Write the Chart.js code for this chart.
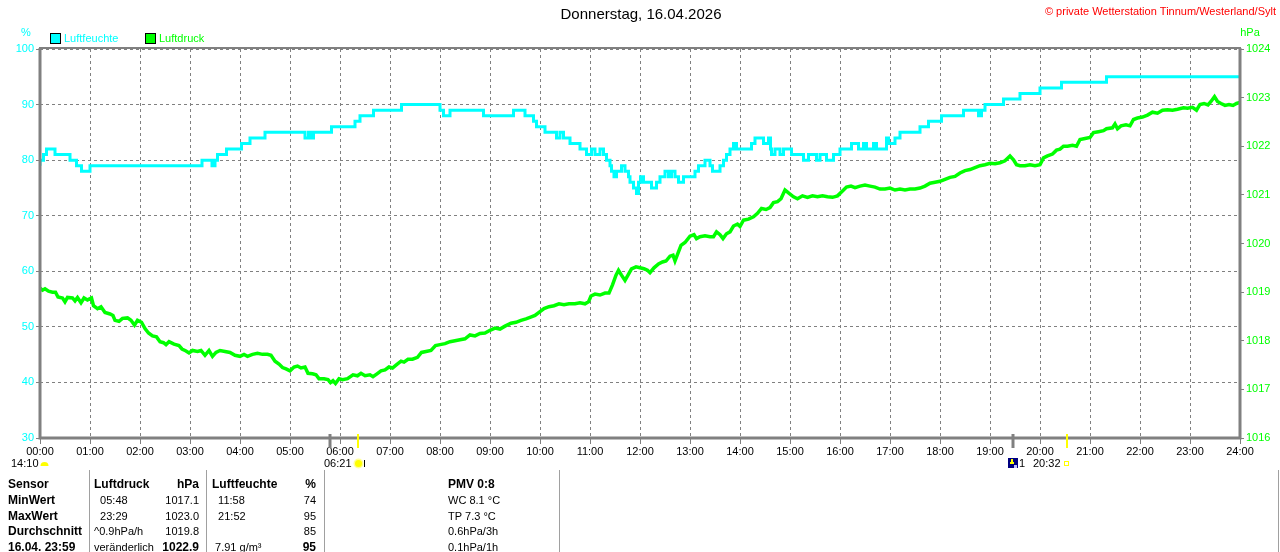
<!DOCTYPE html>
<html>
<head>
<meta charset="utf-8">
<title>Wetterstation Tinnum - Luftdruck / Luftfeuchte</title>
<script src="https://cdn.jsdelivr.net/npm/chart.js@4.4.1/dist/chart.umd.min.js"></script>
<style>
  html, body { margin: 0; padding: 0; background: #fff; }
  #wrap { width: 1280px; height: 552px; position: relative; }
</style>
</head>
<body>
<div id="wrap"><canvas id="wetterChart" width="1280" height="552"></canvas></div>
<script>
// Zeitachse in Stunden (0..24)
const hourMin = 0, hourMax = 24;

// Luftfeuchte in %, Stufenwerte ab Zeitpunkt
const humTimes = [
  0, 0.07, 0.13, 0.3, 0.6, 0.73, 0.83, 1.0,
  3.24, 3.44, 3.5, 3.55, 3.73, 4.03, 4.2, 4.5,
  5.3, 5.37, 5.43, 5.47, 5.83, 6.3, 6.4, 6.67,
  7.23, 8.0, 8.07, 8.2, 8.87, 9.47, 9.7, 9.87,
  9.93, 10.1, 10.33, 10.4, 10.47, 10.6, 10.8, 10.93,
  11.03, 11.1, 11.2, 11.27, 11.33, 11.4, 11.43, 11.48,
  11.53, 11.63, 11.7, 11.77, 11.8, 11.87, 11.93, 11.97,
  12.01, 12.07, 12.23, 12.33, 12.4, 12.5, 12.57, 12.63,
  12.7, 12.77, 12.87, 13.1, 13.17, 13.3, 13.4, 13.45,
  13.6, 13.67, 13.73, 13.8, 13.87, 13.93, 14.23, 14.3,
  14.47, 14.57, 14.61, 14.63, 14.7, 14.8, 14.87, 15.03,
  15.27, 15.37, 15.53, 15.6, 15.73, 15.87, 16.0, 16.23,
  16.37, 16.47, 16.53, 16.67, 16.73, 16.93, 16.97, 17.1,
  17.2, 17.6, 17.77, 18.03, 18.47, 18.77, 18.83, 18.9,
  19.27, 19.6, 20.0, 20.43, 21.33, 21.87, 24.0
];
const humValues = [
  79, 80, 81, 82, 81, 80, 79, 78,
  79, 80, 79, 80, 81, 82, 83, 84,
  85, 84, 85, 84, 85, 86, 87, 88,
  89, 90, 89, 88, 89, 88, 89, 88,
  87, 86, 85, 84, 85, 84, 83, 82,
  81, 82, 81, 82, 81, 80, 79, 78,
  77, 78, 79, 78, 77, 76, 75, 74,
  76, 77, 76, 75, 76, 77, 78, 77,
  78, 77, 76, 77, 78, 79, 80, 79,
  78, 79, 80, 81, 82, 83, 82, 83,
  84, 83, 84, 82, 81, 82, 81, 82,
  81, 80, 81, 80, 81, 80, 81, 82,
  83, 82, 83, 82, 83, 82, 84, 83,
  84, 85, 86, 87, 88, 89, 88, 89,
  90, 91, 92, 93, 94, 95, 95
];

// Luftdruck in hPa
const presTimes = [
  0.00, 0.05, 0.10, 0.17, 0.25, 0.31, 0.36, 0.45, 0.50, 0.55, 0.65, 0.70, 0.75, 0.82, 0.88, 0.95,
  1.03, 1.07, 1.15, 1.22, 1.30, 1.40, 1.46, 1.50, 1.58, 1.65, 1.75, 1.82, 1.89, 1.95,
  2.03, 2.10, 2.17, 2.25, 2.33, 2.40, 2.47, 2.52, 2.58, 2.68, 2.78, 2.84, 2.92, 2.98,
  3.05, 3.15, 3.22, 3.30, 3.38, 3.45, 3.52, 3.60, 3.70, 3.80, 3.90,
  4.00, 4.08, 4.15, 4.25, 4.35, 4.45, 4.55, 4.62, 4.70, 4.78, 4.85, 4.92,
  5.00, 5.08, 5.15, 5.22, 5.30, 5.36, 5.45, 5.52, 5.58, 5.68, 5.76, 5.81, 5.86, 5.91, 5.98,
  6.05, 6.15, 6.26, 6.35, 6.42, 6.50, 6.60, 6.66, 6.74, 6.82, 6.90, 6.98,
  7.05, 7.12, 7.22, 7.28, 7.36, 7.45, 7.55, 7.63, 7.72, 7.82, 7.91,
  8.00, 8.10, 8.20, 8.30, 8.40, 8.50, 8.60, 8.70, 8.80, 8.90,
  9.01, 9.10, 9.20, 9.30, 9.42, 9.52, 9.62, 9.72, 9.80, 9.90,
  10.00, 10.08, 10.18, 10.28, 10.38, 10.48, 10.58, 10.70, 10.80, 10.90, 10.97,
  11.02, 11.10, 11.20, 11.30, 11.38, 11.45, 11.52, 11.57, 11.63, 11.70, 11.76, 11.83, 11.92,
  12.00, 12.08, 12.15, 12.20, 12.28, 12.37, 12.45, 12.52, 12.60, 12.66, 12.70, 12.76, 12.82, 12.90,
  13.00, 13.08, 13.13, 13.20, 13.30, 13.40, 13.47, 13.53, 13.60, 13.66, 13.73, 13.80, 13.87, 13.95,
  14.00, 14.07, 14.17, 14.27, 14.35, 14.43, 14.52, 14.60, 14.67, 14.75, 14.82, 14.90, 14.97,
  15.07, 15.15, 15.25, 15.35, 15.45, 15.55, 15.65, 15.75, 15.85, 15.95,
  16.05, 16.13, 16.22, 16.30, 16.40, 16.50, 16.60, 16.70, 16.80, 16.90,
  17.00, 17.10, 17.20, 17.30, 17.40, 17.50, 17.60, 17.70, 17.80, 17.90,
  18.00, 18.10, 18.20, 18.30, 18.40, 18.50, 18.60, 18.70, 18.80, 18.90,
  19.00, 19.10, 19.20, 19.30, 19.40, 19.47, 19.53, 19.60, 19.70, 19.80, 19.90,
  20.00, 20.07, 20.15, 20.25, 20.33, 20.40, 20.47, 20.55, 20.65, 20.73, 20.80, 20.90,
  21.00, 21.07, 21.17, 21.27, 21.33, 21.45, 21.50, 21.55, 21.62, 21.72, 21.80, 21.87, 21.95,
  22.05, 22.15, 22.25, 22.35, 22.45, 22.55, 22.65, 22.75, 22.87, 22.95,
  23.05, 23.13, 23.20, 23.28, 23.36, 23.42, 23.49, 23.55, 23.62, 23.70, 23.78, 23.86, 23.93, 24.00
];
const presValues = [
  1019.08, 1019.04, 1019.07, 1019.02, 1019.00, 1019.00, 1018.90, 1018.88, 1018.80, 1018.89, 1018.88, 1018.82, 1018.89, 1018.78, 1018.88, 1018.84,
  1018.88, 1018.72, 1018.66, 1018.70, 1018.58, 1018.55, 1018.52, 1018.42, 1018.40, 1018.46, 1018.47, 1018.42, 1018.32, 1018.42,
  1018.38, 1018.25, 1018.16, 1018.10, 1018.08, 1017.98, 1017.96, 1017.92, 1017.98, 1017.93, 1017.90, 1017.83, 1017.79, 1017.75,
  1017.80, 1017.78, 1017.80, 1017.70, 1017.80, 1017.68, 1017.76, 1017.80, 1017.78, 1017.76, 1017.70,
  1017.68, 1017.72, 1017.68, 1017.72, 1017.74, 1017.72, 1017.72, 1017.70, 1017.58, 1017.52, 1017.45, 1017.42,
  1017.38, 1017.46, 1017.48, 1017.44, 1017.46, 1017.33, 1017.32, 1017.30, 1017.22, 1017.22, 1017.20, 1017.14, 1017.18, 1017.12, 1017.22,
  1017.20, 1017.22, 1017.30, 1017.28, 1017.33, 1017.28, 1017.30, 1017.26, 1017.32, 1017.38, 1017.40, 1017.46,
  1017.44, 1017.50, 1017.58, 1017.56, 1017.62, 1017.62, 1017.66, 1017.76, 1017.78, 1017.80, 1017.90,
  1017.92, 1017.94, 1017.98, 1018.00, 1018.02, 1018.04, 1018.12, 1018.10, 1018.15, 1018.16,
  1018.22, 1018.26, 1018.24, 1018.30, 1018.36, 1018.38, 1018.42, 1018.45, 1018.48, 1018.52,
  1018.60, 1018.66, 1018.70, 1018.72, 1018.76, 1018.74, 1018.76, 1018.76, 1018.78, 1018.76, 1018.80,
  1018.92, 1018.96, 1018.94, 1018.98, 1018.98, 1019.15, 1019.35, 1019.45, 1019.35, 1019.24, 1019.35, 1019.48, 1019.52,
  1019.50, 1019.48, 1019.45, 1019.40, 1019.50, 1019.58, 1019.62, 1019.64, 1019.74, 1019.76, 1019.64, 1019.80, 1019.96, 1020.02,
  1020.15, 1020.18, 1020.10, 1020.14, 1020.16, 1020.14, 1020.14, 1020.24, 1020.18, 1020.10, 1020.20, 1020.24, 1020.36, 1020.40,
  1020.35, 1020.48, 1020.50, 1020.55, 1020.62, 1020.72, 1020.70, 1020.74, 1020.84, 1020.86, 1020.92, 1021.10, 1021.04,
  1020.96, 1020.92, 1020.98, 1020.95, 1020.98, 1020.96, 1020.98, 1020.96, 1020.95, 1020.98,
  1021.08, 1021.16, 1021.18, 1021.15, 1021.18, 1021.20, 1021.18, 1021.16, 1021.12, 1021.12,
  1021.14, 1021.10, 1021.12, 1021.10, 1021.12, 1021.12, 1021.14, 1021.18, 1021.24, 1021.26,
  1021.28, 1021.32, 1021.36, 1021.38, 1021.45, 1021.50, 1021.52, 1021.56, 1021.60, 1021.62,
  1021.65, 1021.64, 1021.66, 1021.70, 1021.80, 1021.72, 1021.62, 1021.60, 1021.60, 1021.62, 1021.60,
  1021.62, 1021.76, 1021.80, 1021.84, 1021.92, 1021.94, 1022.00, 1022.00, 1022.02, 1022.00, 1022.14, 1022.16,
  1022.18, 1022.28, 1022.30, 1022.32, 1022.36, 1022.38, 1022.46, 1022.36, 1022.42, 1022.44, 1022.42, 1022.55, 1022.58,
  1022.60, 1022.64, 1022.70, 1022.68, 1022.74, 1022.75, 1022.74, 1022.76, 1022.79, 1022.78,
  1022.80, 1022.74, 1022.86, 1022.88, 1022.85, 1022.92, 1023.02, 1022.92, 1022.88, 1022.84, 1022.86, 1022.84, 1022.88, 1022.90
];

// Markierungen an der Zeitachse
const markerTimes = [5.8, 6.35, 19.45, 20.533];
const markerKinds = ['min', 'sun', 'min', 'sun'];

// Tabelle unter dem Diagramm
const tableRows = [
  ['Sensor',        'Luftdruck',    'hPa',    'Luftfeuchte', '%',  'PMV 0:8'],
  ['MinWert',       '  05:48',      '1017.1', '  11:58',     '74', 'WC 8.1 °C'],
  ['MaxWert',       '  23:29',      '1023.0', '  21:52',     '95', 'TP 7.3 °C'],
  ['Durchschnitt',  '^0.9hPa/h',    '1019.8', '',            '85', '0.6hPa/3h'],
  ['16.04. 23:59',  'veränderlich', '1022.9', ' 7.91 g/m³',  '95', '0.1hPa/1h']
];

const FONT = '"Liberation Sans", Arial, sans-serif';
Chart.defaults.font.family = FONT;
Chart.defaults.font.size = 11;
Chart.defaults.color = '#000';

const pad2 = n => String(n).padStart(2, '0');

const decoPlugin = {
  id: 'wetterDeko',
  afterDraw(chart) {
    const { ctx, chartArea: a, scales: { x } } = chart;
    ctx.save();

    // Rahmen
    ctx.strokeStyle = '#808080';
    ctx.lineWidth = 2;
    ctx.beginPath(); ctx.moveTo(a.left - 1, a.top - 1); ctx.lineTo(a.right + 1, a.top - 1); ctx.stroke();
    ctx.lineWidth = 3;
    ctx.beginPath();
    ctx.moveTo(a.left, a.top - 1); ctx.lineTo(a.left, a.bottom);
    ctx.lineTo(a.right, a.bottom); ctx.lineTo(a.right, a.top - 1);
    ctx.stroke();

    // Titel und Copyright
    ctx.fillStyle = '#000';
    ctx.font = '15px ' + FONT;
    ctx.textAlign = 'center'; ctx.textBaseline = 'middle';
    ctx.fillText('Donnerstag, 16.04.2026', 641, 15);
    ctx.fillStyle = '#ff0000';
    ctx.font = '11px ' + FONT;
    ctx.textAlign = 'right';
    ctx.fillText('© private Wetterstation Tinnum/Westerland/Sylt', 1276, 12);

    // Einheiten
    ctx.textAlign = 'center';
    ctx.fillStyle = '#00ffff';
    ctx.fillText('%', 26, 33);
    ctx.fillStyle = '#00ff00';
    ctx.fillText('hPa', 1250, 33);

    // Legende
    const legend = [['Luftfeuchte', '#00ffff', 50], ['Luftdruck', '#00ff00', 145]];
    ctx.textAlign = 'left';
    legend.forEach(([txt, col, lx]) => {
      ctx.fillStyle = col;
      ctx.fillRect(lx, 33, 10, 10);
      ctx.strokeStyle = '#000'; ctx.lineWidth = 1;
      ctx.strokeRect(lx + 0.5, 33.5, 10, 10);
      ctx.fillText(txt, lx + 14, 38.5);
    });

    // Markierungen (Minimum, Sonnenauf-/untergang)
    markerTimes.forEach((t, i) => {
      const px = Math.round(x.getPixelForValue(t));
      if (markerKinds[i] === 'min') {
        ctx.strokeStyle = '#808080'; ctx.lineWidth = 3;
      } else {
        ctx.strokeStyle = '#ffff00'; ctx.lineWidth = 2;
      }
      ctx.beginPath(); ctx.moveTo(px, 434); ctx.lineTo(px, 448); ctx.stroke();
    });

    // Mond-/Sonnenzeiten
    ctx.fillStyle = '#000';
    ctx.font = '11px ' + FONT;
    ctx.textAlign = 'left'; ctx.textBaseline = 'middle';
    ctx.fillText('14:10', 11, 463.5);
    ctx.fillStyle = '#ffff00';
    ctx.beginPath(); ctx.arc(44.5, 466, 4, Math.PI, 0); ctx.fill();

    ctx.fillStyle = '#000';
    ctx.fillText('06:21', 324, 463.5);
    ctx.fillStyle = '#ffff99';
    ctx.beginPath(); ctx.arc(358.5, 463.5, 5, 0, Math.PI * 2); ctx.fill();
    ctx.fillStyle = '#ffff00';
    ctx.beginPath(); ctx.arc(358.5, 463.5, 3.5, 0, Math.PI * 2); ctx.fill();
    ctx.fillStyle = '#000';
    ctx.fillRect(364, 460, 1, 7);

    ctx.save();
    ctx.beginPath(); ctx.rect(1018, 455, 7, 16); ctx.clip();
    ctx.fillStyle = '#000';
    ctx.fillText('19:27', 1019, 463.5);
    ctx.restore();
    ctx.fillStyle = '#000080';
    ctx.fillRect(1008, 458, 10, 10);
    ctx.fillStyle = '#ffff00';
    ctx.fillRect(1011, 459, 2, 4);
    ctx.fillRect(1010, 462, 4, 2);
    ctx.fillStyle = '#c0c0ff';
    ctx.fillRect(1014, 465, 3, 3);
    ctx.fillStyle = '#000';
    ctx.fillText('20:32', 1033, 463.5);
    ctx.strokeStyle = '#ffff00'; ctx.lineWidth = 1;
    ctx.strokeRect(1064.5, 461.5, 4, 4);

    // Tabelle
    ctx.strokeStyle = '#a0a0a0'; ctx.lineWidth = 1;
    [89, 206, 324, 559, 1278].forEach(lx => {
      ctx.beginPath(); ctx.moveTo(lx + 0.5, 470); ctx.lineTo(lx + 0.5, 552); ctx.stroke();
    });
    const rowY = [485, 501, 516.5, 532, 547.5];
    tableRows.forEach((r, i) => {
      const y = rowY[i];
      const head = i === 0;
      const last = i === tableRows.length - 1;
      ctx.fillStyle = '#000';
      ctx.textAlign = 'left';
      ctx.font = 'bold 12px ' + FONT;
      ctx.fillText(r[0], 8, y);
      ctx.font = (head ? 'bold 12px ' : '11px ') + FONT;
      ctx.fillText(r[1], 94, y);
      ctx.fillText(r[3], 212, y);
      ctx.fillText(r[5], 448, y);
      ctx.textAlign = 'right';
      ctx.font = (head || last ? 'bold 12px ' : '11px ') + FONT;
      ctx.fillText(r[2], 199, y);
      ctx.fillText(r[4], 316, y);
    });

    ctx.restore();
  }
};

new Chart(document.getElementById('wetterChart'), {
  type: 'line',
  data: {
    datasets: [
      {
        label: 'Luftdruck',
        data: presTimes.map((t, i) => ({ x: t, y: presValues[i] })),
        yAxisID: 'yP',
        borderColor: '#00ff00',
        borderWidth: 3.5,
        pointRadius: 0,
        tension: 0
      },
      {
        label: 'Luftfeuchte',
        data: humTimes.map((t, i) => ({ x: t, y: humValues[i] })),
        yAxisID: 'yH',
        borderColor: '#00ffff',
        borderWidth: 3,
        pointRadius: 0,
        stepped: 'after'
      }
    ]
  },
  options: {
    responsive: false,
    animation: false,
    devicePixelRatio: 1,
    layout: { padding: { top: 49, left: 0, right: 0, bottom: 94 } },
    plugins: { legend: { display: false }, tooltip: { enabled: false } },
    scales: {
      x: {
        type: 'linear', min: hourMin, max: hourMax,
        afterFit: s => { s.height = 20; },
        grid: { color: '#808080', lineWidth: 1, tickLength: 6, tickColor: '#808080' },
        border: { display: false, dash: [3, 3] },
        ticks: {
          stepSize: 1, autoSkip: false, maxRotation: 0, padding: 1,
          color: '#000', font: { size: 11 },
          callback: v => pad2(v) + ':00'
        }
      },
      yH: {
        type: 'linear', position: 'left', min: 30, max: 100,
        afterFit: s => { s.width = 40; },
        grid: { color: '#808080', lineWidth: 1, tickLength: 4, tickColor: '#808080' },
        border: { display: false, dash: [3, 3] },
        ticks: { stepSize: 10, padding: 2, color: '#00ffff', font: { size: 11 }, callback: v => String(v) }
      },
      yP: {
        type: 'linear', position: 'right', min: 1016, max: 1024,
        afterFit: s => { s.width = 40; },
        grid: { drawOnChartArea: false, tickLength: 4, tickColor: '#808080' },
        border: { display: false },
        ticks: { stepSize: 1, padding: 2, color: '#00ff00', font: { size: 11 }, callback: v => String(v) }
      }
    }
  },
  plugins: [decoPlugin]
});
</script>
</body>
</html>
